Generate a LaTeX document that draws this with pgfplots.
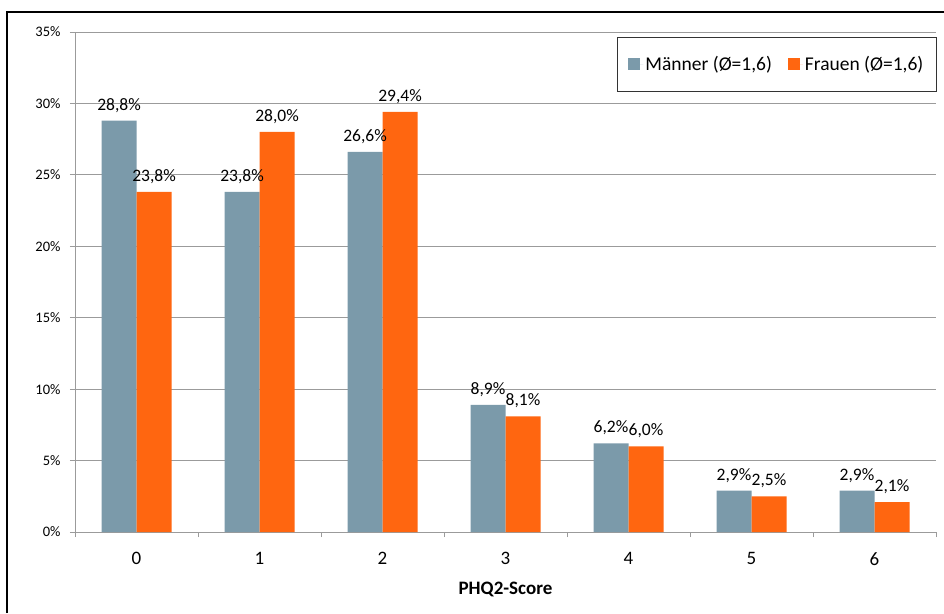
\documentclass[border=0pt]{standalone}
\usepackage{pgfplots}
\pgfplotsset{compat=1.18}
\usepackage{fontspec}
\setmainfont{Carlito}
\definecolor{mgrey}{RGB}{123,154,170}
\definecolor{forange}{RGB}{255,102,16}
\definecolor{gridc}{RGB}{155,155,155}
\begin{document}
\begin{tikzpicture}[x=1pt,y=1pt]
\useasboundingbox (0,0) rectangle (944,613);
\draw[line width=2.5pt] (7.2,0) -- (7.2,600.8) -- (944,600.8);
\begin{axis}[
  at={(75pt,81pt)}, anchor=south west,
  scale only axis, width=861pt, height=500pt,
  ybar=0pt, bar width=35pt,
  every axis plot post/.append style={legend image code/.code={\fill[##1] (0pt,-6pt) rectangle (12pt,6pt); \path (0pt,0pt) -- (15pt,0pt);}},
  /pgf/number format/assume math mode=true,
  xmin=-0.5, xmax=6.5, ymin=0, ymax=35,
  axis x line*=bottom, axis y line*=left,
  axis line style={draw=gridc, line width=0.8pt, -},
  tick style={draw=gridc, line width=0.8pt},
  tick align=outside, major tick length=5pt, minor tick length=5pt,
  xtick={0,1,2,3,4,5,6},
  xticklabels={0,1,2,3,4,5,6},
  minor xtick={-0.5,0.5,...,6.5},
  major x tick style={draw=none},
  minor x tick style={draw=gridc},
  x tick label style={font=\fontsize{19}{22}\selectfont, yshift=-12pt},
  ytick={0,5,...,35},
  yticklabel={\pgfmathprintnumber{\tick}\%},
  y tick label style={font=\fontsize{14.5}{17}\selectfont, xshift=-6pt},
  ymajorgrids, grid style={draw=gridc, line width=0.8pt},
  xlabel={\textbf{PHQ2-Score}},
  xlabel style={font=\fontsize{19}{22}\selectfont, yshift=-10pt},
  nodes near coords={\pgfmathprintnumber[fixed,fixed zerofill,precision=1,use comma]{\pgfplotspointmeta}\%},
  every node near coord/.append style={font=\fontsize{17.5}{20}\selectfont, anchor=base, inner sep=0pt, yshift=10.5pt, black},
  legend style={at={(1.001,0.99)}, anchor=north east, draw=black!80, line width=1pt,
    font=\fontsize{19.5}{23}\selectfont, legend columns=2,
    inner xsep=11pt, inner ysep=17pt,
    /tikz/every even column/.append style={column sep=14pt}},
]
\addplot[fill=mgrey, draw=none] coordinates {(0,28.8) (1,23.8) (2,26.6) (3,8.9) (4,6.2) (5,2.9) (6,2.9)};
\addplot[fill=forange, draw=none] coordinates {(0,23.8) (1,28.0) (2,29.4) (3,8.1) (4,6.0) (5,2.5) (6,2.1)};
\legend{{Männer (Ø=1,6)}, {Frauen (Ø=1,6)}}
\end{axis}
\end{tikzpicture}
\end{document}
